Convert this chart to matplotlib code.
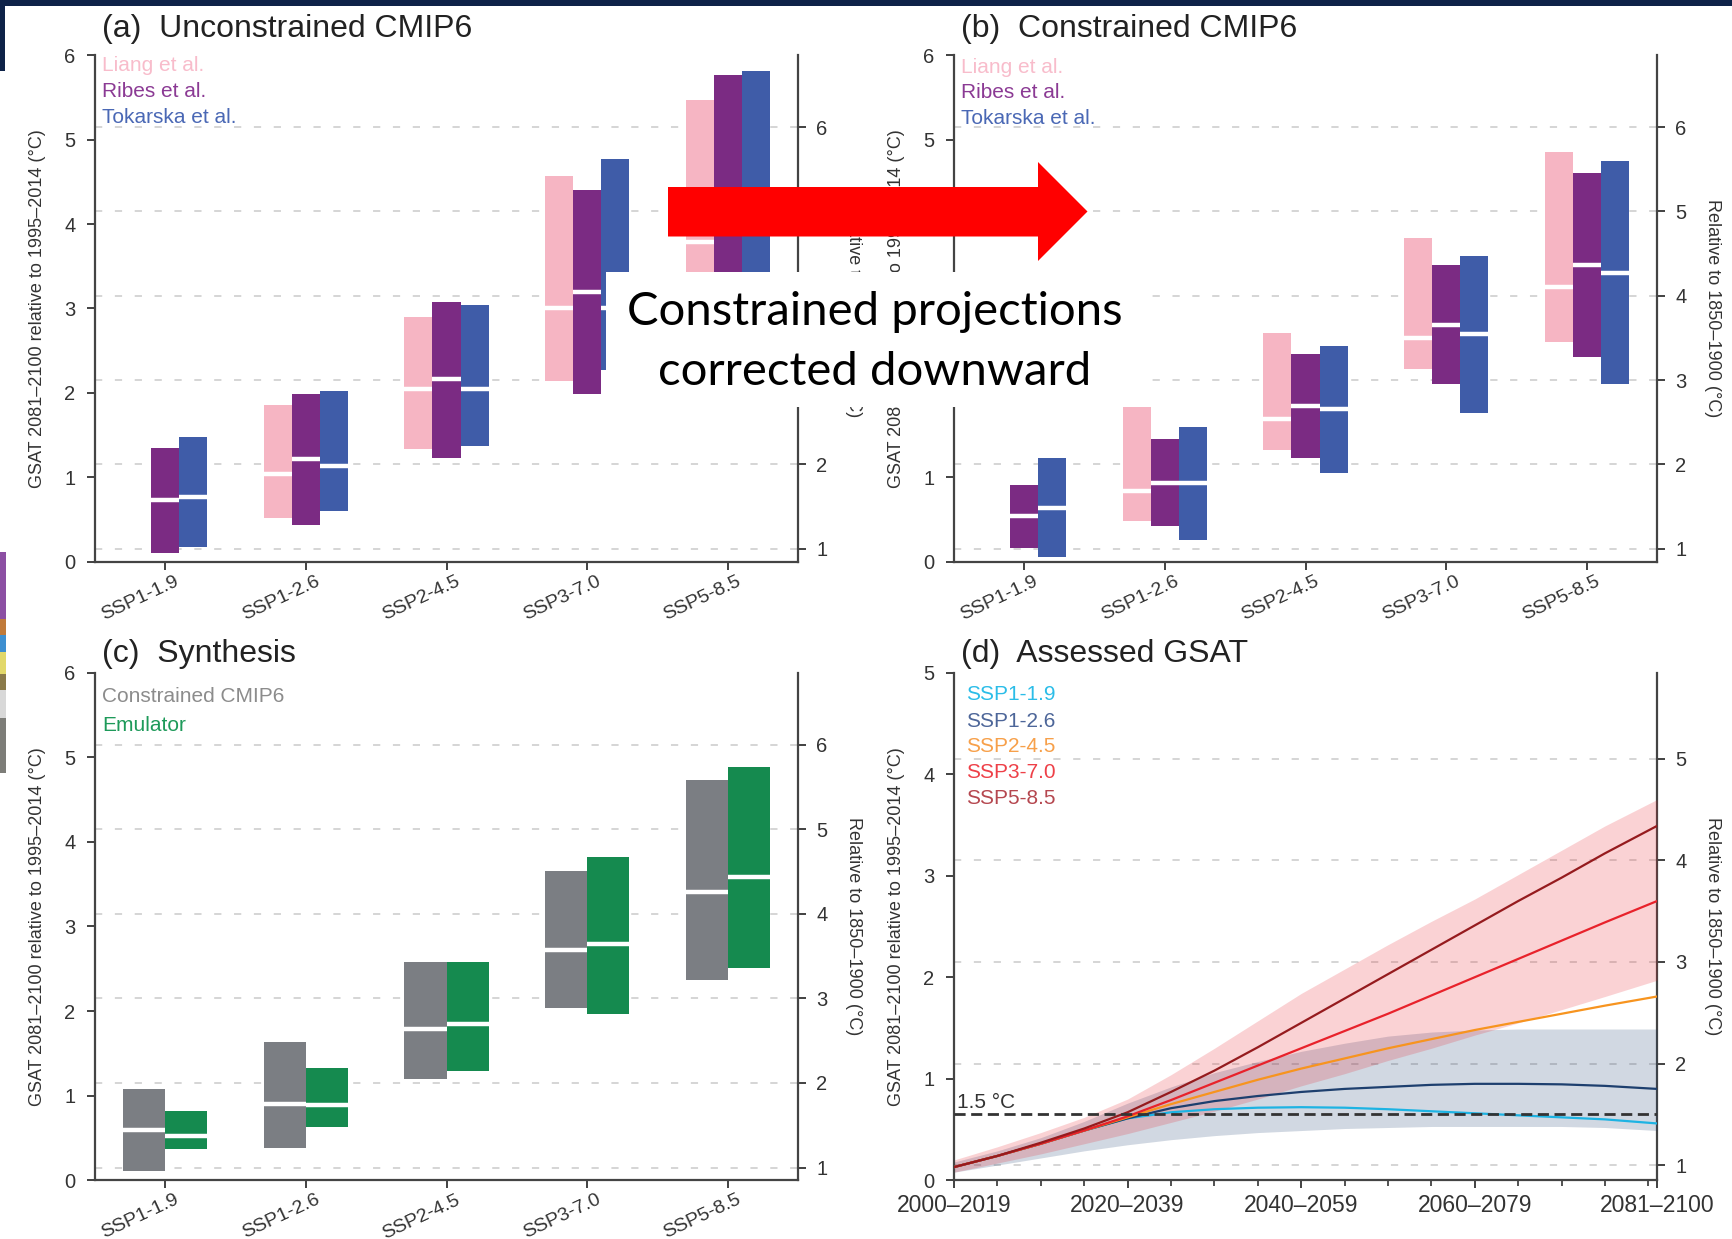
import matplotlib
matplotlib.use("Agg")
import matplotlib.pyplot as plt
import matplotlib.transforms as mtransforms
from matplotlib.patches import Rectangle, Polygon
import numpy as np

plt.rcParams['font.family'] = ['Liberation Sans', 'DejaVu Sans']

# offset between the two reference periods (1995-2014 -> 1850-1900)
OFFSET = 0.85

scenarios = ['SSP1-1.9', 'SSP1-2.6', 'SSP2-4.5', 'SSP3-7.0', 'SSP5-8.5']

# (a) unconstrained CMIP6: (5%, median, 95%) per scenario, None = not available
liang_unc = [None, (0.52, 1.04, 1.86), (1.33, 2.04, 2.90), (2.14, 3.00, 4.57), (2.40, 3.79, 5.47)]
ribes_unc = [(0.10, 0.73, 1.34), (0.43, 1.21, 1.98), (1.23, 2.16, 3.08), (1.98, 3.19, 4.41), (2.40, 4.00, 5.77)]
tokarska_unc = [(0.17, 0.76, 1.48), (0.60, 1.13, 2.02), (1.37, 2.05, 3.04), (2.27, 3.00, 4.77), (2.55, 3.95, 5.82)]

# (b) constrained CMIP6
liang_con = [None, (0.48, 0.84, 1.83), (1.32, 1.69, 2.71), (2.28, 2.65, 3.84), (2.60, 3.26, 4.85)]
ribes_con = [(0.16, 0.54, 0.91), (0.42, 0.93, 1.45), (1.23, 1.84, 2.46), (2.10, 2.80, 3.51), (2.43, 3.52, 4.60)]
tokarska_con = [(0.05, 0.64, 1.23), (0.25, 0.93, 1.59), (1.05, 1.81, 2.56), (1.76, 2.70, 3.62), (2.10, 3.42, 4.75)]

# (c) synthesis
cmip6_syn = [(0.11, 0.59, 1.08), (0.38, 0.90, 1.63), (1.20, 1.79, 2.58), (2.04, 2.72, 3.66), (2.37, 3.41, 4.73)]
emulator_syn = [(0.37, 0.52, 0.82), (0.63, 0.89, 1.33), (1.29, 1.85, 2.58), (1.96, 2.79, 3.82), (2.51, 3.59, 4.89)]

# (d) assessed GSAT time series (read every 5 years)
years = [2000, 2005, 2010, 2015, 2020, 2025, 2030, 2035, 2040, 2045, 2050, 2055, 2060, 2065, 2070, 2075, 2081]
gsat_ssp119 = [0.13, 0.24, 0.36, 0.49, 0.61, 0.67, 0.70, 0.715, 0.72, 0.715, 0.70, 0.68, 0.66, 0.64, 0.62, 0.60, 0.56]
gsat_ssp126 = [0.13, 0.24, 0.36, 0.49, 0.61, 0.71, 0.78, 0.83, 0.87, 0.90, 0.92, 0.94, 0.95, 0.95, 0.945, 0.93, 0.90]
gsat_ssp245 = [0.13, 0.24, 0.36, 0.49, 0.62, 0.75, 0.87, 0.99, 1.10, 1.20, 1.30, 1.39, 1.48, 1.56, 1.64, 1.72, 1.81]
gsat_ssp370 = [0.13, 0.24, 0.36, 0.49, 0.63, 0.79, 0.96, 1.13, 1.30, 1.47, 1.64, 1.82, 2.00, 2.18, 2.36, 2.54, 2.75]
gsat_ssp585 = [0.13, 0.24, 0.37, 0.51, 0.67, 0.87, 1.08, 1.31, 1.55, 1.79, 2.03, 2.27, 2.51, 2.75, 2.98, 3.22, 3.49]
ssp126_low = [0.08, 0.15, 0.22, 0.29, 0.35, 0.40, 0.44, 0.47, 0.49, 0.51, 0.52, 0.53, 0.53, 0.53, 0.53, 0.52, 0.49]
ssp126_high = [0.18, 0.29, 0.42, 0.58, 0.76, 0.92, 1.06, 1.17, 1.27, 1.35, 1.42, 1.46, 1.48, 1.49, 1.49, 1.49, 1.49]
ssp370_low = [0.08, 0.17, 0.26, 0.36, 0.46, 0.57, 0.68, 0.80, 0.93, 1.05, 1.18, 1.30, 1.43, 1.55, 1.68, 1.81, 1.97]
ssp370_high = [0.20, 0.33, 0.47, 0.62, 0.80, 1.04, 1.30, 1.57, 1.84, 2.08, 2.32, 2.55, 2.77, 3.01, 3.25, 3.49, 3.75]
period_ticks = [2000, 2020, 2040, 2060, 2081]
period_labels = ['2000–2019', '2020–2039', '2040–2059', '2060–2079', '2081–2100']

c_liang, c_ribes, c_tok = '#f6b5c3', '#7b2b83', '#3f5ca8'
c_gray, c_green = '#7b7e83', '#158a4f'
ssp_colors = ['#1db3e3', '#1d3f6e', '#f7941f', '#e8222b', '#951b1e']
ssp_text_colors = ['#2bbde8', '#4d6699', '#f7a04a', '#ee4048', '#b5474f']

fig = plt.figure(figsize=(17.32, 12.39), dpi=100)
W, H = 1732, 1239


def px_axes(left, top, right, bottom):
    return fig.add_axes([left / W, 1 - bottom / H, (right - left) / W, (bottom - top) / H])


def style_axis(ax, ymax, right_ticks):
    ax.set_ylim(0, ymax)
    ax.set_yticks(range(ymax + 1))
    ax.spines['top'].set_visible(False)
    ax.spines['right'].set_visible(False)
    for s in ['left', 'bottom']:
        ax.spines[s].set_color('#444444')
        ax.spines[s].set_linewidth(1.6)
    ax.tick_params(colors='#333333', labelsize=14.5, length=6, width=1.3)
    ax.tick_params(axis='y', pad=8)
    ax.tick_params(axis='x', pad=2)
    for t in right_ticks:
        ax.axhline(t - OFFSET, color='#d2d2d2', lw=1.3, dashes=(4, 7), zorder=0)
    sec = ax.secondary_yaxis('right', functions=(lambda v: v + OFFSET, lambda v: v - OFFSET))
    sec.set_yticks(right_ticks)
    sec.spines['right'].set_color('#444444')
    sec.spines['right'].set_linewidth(1.6)
    sec.tick_params(colors='#333333', labelsize=14.5, length=6, width=1.3, pad=7)
    sec.set_ylabel('Relative to 1850–1900 (°C)', rotation=270, va='center', fontsize=13,
                   color='#333333')
    sec.yaxis.set_label_coords(1 + 56 / 703, 0.5, transform=ax.transAxes)
    ax.set_ylabel('GSAT 2081–2100 relative to 1995–2014 (°C)', va='center', fontsize=13,
                  color='#333333')
    ax.yaxis.set_label_coords(-57 / 703, 0.5)


def draw_ranges(ax, ranges, offset, width, color):
    for i, r in enumerate(ranges):
        if r is None:
            continue
        lo, med, hi = r
        ax.bar(i + offset, hi - lo, bottom=lo, width=width, color=color, linewidth=0, zorder=2)
        ax.hlines(med, i + offset - width / 2, i + offset + width / 2, color='white', lw=3.2, zorder=3)


def scenario_axis(ax):
    ax.set_xlim(-0.5, 4.5)
    ax.set_xticks(range(len(scenarios)))
    ax.set_xticklabels(scenarios, rotation=25, ha='right', va='top', rotation_mode='anchor', fontsize=14)
    shift = mtransforms.ScaledTranslation(9 / 100, 0, fig.dpi_scale_trans)
    for lab in ax.get_xticklabels():
        lab.set_transform(lab.get_transform() + shift)


def panel_title(ax, text, y):
    ax.text(0.01, y, text, transform=ax.transAxes, fontsize=23, color='#222222', va='center', ha='left')


def legend_texts(ax, labels, colors, ys, x=0.01, size=15):
    for lab, col, y in zip(labels, colors, ys):
        ax.text(x, y, lab, transform=ax.transAxes, color=col, fontsize=size, va='center', ha='left')


# (a)
ax_a = px_axes(95, 55.4, 798, 561.5)
style_axis(ax_a, 6, [1, 2, 3, 4, 5, 6])
draw_ranges(ax_a, liang_unc, -0.2, 0.2, c_liang)
draw_ranges(ax_a, ribes_unc, 0.0, 0.2, c_ribes)
draw_ranges(ax_a, tokarska_unc, 0.2, 0.2, c_tok)
scenario_axis(ax_a)
panel_title(ax_a, '(a)  Unconstrained CMIP6', 1.053)
legend_texts(ax_a, ['Liang et al.', 'Ribes et al.', 'Tokarska et al.'],
             ['#f8bccb', '#8b3a94', '#4a68b5'], [0.980, 0.929, 0.878])

# (b)
ax_b = px_axes(954, 55.4, 1657, 561.5)
style_axis(ax_b, 6, [1, 2, 3, 4, 5, 6])
draw_ranges(ax_b, liang_con, -0.2, 0.2, c_liang)
draw_ranges(ax_b, ribes_con, 0.0, 0.2, c_ribes)
draw_ranges(ax_b, tokarska_con, 0.2, 0.2, c_tok)
scenario_axis(ax_b)
panel_title(ax_b, '(b)  Constrained CMIP6', 1.053)
legend_texts(ax_b, ['Liang et al.', 'Ribes et al.', 'Tokarska et al.'],
             ['#f8bccb', '#8b3a94', '#4a68b5'], [0.977, 0.926, 0.875])

# (c)
ax_c = px_axes(95, 672.6, 798, 1180.3)
style_axis(ax_c, 6, [1, 2, 3, 4, 5, 6])
draw_ranges(ax_c, cmip6_syn, -0.15, 0.3, c_gray)
draw_ranges(ax_c, emulator_syn, 0.15, 0.3, c_green)
scenario_axis(ax_c)
panel_title(ax_c, '(c)  Synthesis', 1.037)
legend_texts(ax_c, ['Constrained CMIP6', 'Emulator'], ['#8c8c8c', '#1e9a5a'], [0.952, 0.895])

# (d)
ax_d = px_axes(954, 672.6, 1657, 1180.3)
style_axis(ax_d, 5, [1, 2, 3, 4, 5])
ax_d.fill_between(years, ssp126_low, ssp126_high, color=ssp_colors[1], alpha=0.2, lw=0, zorder=1)
ax_d.fill_between(years, ssp370_low, ssp370_high, color=ssp_colors[3], alpha=0.2, lw=0, zorder=1)
for series, col in zip([gsat_ssp119, gsat_ssp126, gsat_ssp245, gsat_ssp370, gsat_ssp585], ssp_colors):
    ax_d.plot(years, series, color=col, lw=1.6, zorder=3)
ax_d.axhline(1.5 - OFFSET, color='#333333', lw=2, dashes=(4, 2), zorder=4)
ax_d.text(2000.4, 1.5 - OFFSET + 0.02, '1.5 °C', color='#333333', fontsize=15, va='bottom', ha='left')
ax_d.set_xlim(period_ticks[0], period_ticks[-1])
ax_d.set_xticks(period_ticks)
ax_d.set_xticklabels(period_labels, fontsize=16.5)
ax_d.set_xticks(np.arange(2005, 2081, 5), minor=True)
ax_d.tick_params(axis='x', which='minor', length=4, width=1.2, color='#333333')
ax_d.tick_params(axis='x', which='major', pad=4)
panel_title(ax_d, '(d)  Assessed GSAT', 1.037)
legend_texts(ax_d, scenarios, ssp_text_colors, [0.956, 0.904, 0.854, 0.803, 0.753], x=0.017)

# slide overlay: background scraps, red arrow and white text box
ov = fig.add_axes([0, 0, 1, 1], zorder=20)
ov.set_xlim(0, W)
ov.set_ylim(H, 0)
ov.axis('off')
ov.patch.set_alpha(0)
ov.add_patch(Rectangle((0, 0), W, 5.5, color='#0e2248', lw=0))
ov.add_patch(Rectangle((0, 0), 4.5, 71, color='#0e2248', lw=0))
for y0, y1, col in [(552, 619, '#8c4fa3'), (619, 635, '#c07a3a'), (635, 652, '#3d8fd0'),
                    (652, 674, '#e2d86a'), (674, 690, '#8a7a4a'), (690, 718, '#d8d8d8'),
                    (718, 773, '#7d7d78')]:
    ov.add_patch(Rectangle((0, y0), 5.5, y1 - y0, color=col, lw=0))
ov.add_patch(Polygon([(668, 187), (1038, 187), (1038, 162), (1087.5, 211.5), (1038, 261),
                      (1038, 236.5), (668, 236.5)], closed=True, color='#ff0000', lw=0))
ov.add_patch(Rectangle((606, 272), 539, 135, color='white', lw=0))
ov.text(875, 312, 'Constrained projections', fontsize=34, family=['Lato', 'DejaVu Sans'],
        color='black', ha='center', va='center')
ov.text(875, 372, 'corrected downward', fontsize=34, family=['Lato', 'DejaVu Sans'],
        color='black', ha='center', va='center')

fig.savefig('out.png', dpi=100)
